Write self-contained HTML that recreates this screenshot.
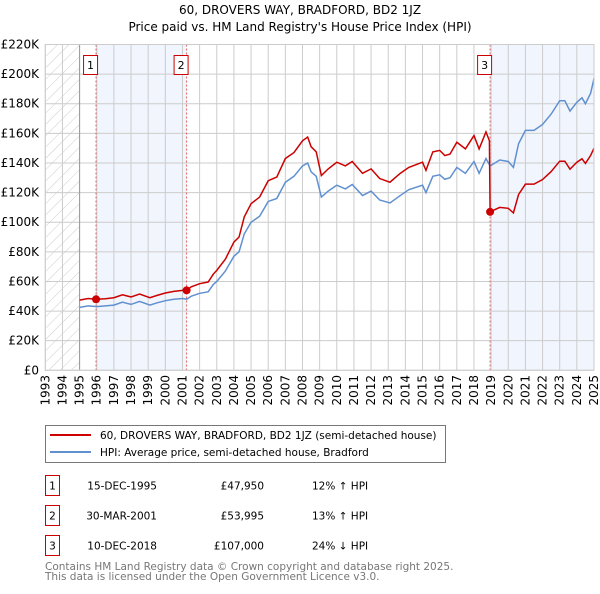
<!DOCTYPE html>
<html><head><meta charset="utf-8"><style>
body{margin:0;background:#fff;font-family:"DejaVu Sans","Liberation Sans",sans-serif}
svg text{font-family:"DejaVu Sans","Liberation Sans",sans-serif}
</style></head><body>
<svg id="chart" width="600" height="590" xmlns="http://www.w3.org/2000/svg">
<defs><pattern id="hatch" width="8" height="8" patternUnits="userSpaceOnUse" patternTransform="rotate(45)"><line x1="0" y1="0" x2="0" y2="8" stroke="#ccc" stroke-width="1"/></pattern></defs>
<text x="300" y="14" text-anchor="middle" font-size="12">60, DROVERS WAY, BRADFORD, BD2 1JZ</text>
<text x="300" y="31" text-anchor="middle" font-size="12">Price paid vs. HM Land Registry's House Price Index (HPI)</text>
<g id="bg"></g><g id="grid"></g><g id="marks"></g><g id="axes"></g>
<rect x="45.5" y="425.5" width="400" height="37" fill="#fff" stroke="#777"/>
<line x1="50" y1="435" x2="91" y2="435" stroke="#cc0000" stroke-width="2"/>
<text x="100" y="439" font-size="10.5">60, DROVERS WAY, BRADFORD, BD2 1JZ (semi-detached house)</text>
<line x1="50" y1="452" x2="91" y2="452" stroke="#6090d0" stroke-width="2"/>
<text x="100" y="456" font-size="10.5">HPI: Average price, semi-detached house, Bradford</text>
<g id="table" font-size="10.5"></g>
<text x="45" y="570" font-size="10.5" fill="#777">Contains HM Land Registry data © Crown copyright and database right 2025.</text>
<text x="45" y="580" font-size="10.5" fill="#777">This data is licensed under the Open Government Licence v3.0.</text>
</svg>
<script>
const hpiYears=[1995,1995.5,1996,1996.5,1997,1997.5,1998,1998.5,1999.1,1999.5,2000,2000.5,2001,2001.25,2001.5,2002,2002.5,2002.8,2003,2003.5,2004,2004.3,2004.6,2005,2005.5,2006,2006.5,2007,2007.5,2008,2008.3,2008.5,2008.8,2009.1,2009.5,2010,2010.5,2010.9,2011.5,2012,2012.5,2013.1,2013.7,2014.2,2015,2015.2,2015.6,2016,2016.3,2016.6,2017,2017.5,2018,2018.3,2018.7,2018.94,2019.5,2020,2020.3,2020.6,2021,2021.5,2022,2022.5,2023,2023.3,2023.6,2024,2024.3,2024.5,2024.8,2025];
const hpiValues=[42.5,43.5,43,43.5,44,46,44.5,46.5,44,45.5,47,48,48.5,48,50,52,53,58,60,67,77,80,92,100,104,114,116,127,131,138,140,134,131,117,121,125,122.5,125.5,118,121,115,113,118,122,125,120,131,132,129,130,137,133,141,133,143,138,142,141,137,153,162,162,166,173,182,182,175,181,184,180,187,197];
const priceYears=[1995,1995.5,1995.96,1996.5,1997,1997.5,1998,1998.5,1999.1,1999.5,2000,2000.5,2001,2001.24,2001.5,2002,2002.5,2002.8,2003,2003.5,2004,2004.3,2004.6,2005,2005.5,2006,2006.5,2007,2007.5,2008,2008.3,2008.5,2008.8,2009.1,2009.5,2010,2010.5,2010.9,2011.5,2012,2012.5,2013.1,2013.7,2014.2,2015,2015.2,2015.6,2016,2016.3,2016.6,2017,2017.5,2018,2018.3,2018.7,2018.9,2018.94,2019.5,2020,2020.3,2020.6,2021,2021.5,2022,2022.5,2023,2023.3,2023.6,2024,2024.3,2024.5,2024.8,2025];
const priceValues=[47.4,48.5,47.95,48.3,49,51,49.5,51.5,49,50.5,52.2,53.3,54,54,56.3,58.5,59.6,65,67.5,75,86.6,90,103.5,112.5,117,128,130.5,143,147,155,157.5,151,147.5,131.5,136,140.5,138,141,133,136,129.5,127,133,137,140.5,135,147.5,148.5,145,146,154,149.5,158.5,149.5,161,155,107,110,109.4,106.3,118.7,125.7,125.7,128.8,134.2,141.2,141.2,135.8,140.5,142.8,139.7,145,150];
const saleYears=[1995.96,2001.24,2018.94];
const saleValues=[47.95,53.995,107];
const saleLabels=["1","2","3"];
const saleDates=["15-DEC-1995","30-MAR-2001","10-DEC-2018"];
const salePrices=["£47,950","£53,995","£107,000"];
const saleDiffs=["12% ↑ HPI","13% ↑ HPI","24% ↓ HPI"];
const yTicks=[0,20,40,60,80,100,120,140,160,180,200,220];
const xTicks=[1993,1994,1995,1996,1997,1998,1999,2000,2001,2002,2003,2004,2005,2006,2007,2008,2009,2010,2011,2012,2013,2014,2015,2016,2017,2018,2019,2020,2021,2022,2023,2024,2025];
const X0=45.3,X1=594,Y0=370.3,Y1=44.5;
const xs=y=>X0+(y-1993)/32*(X1-X0);
const ys=v=>Y0-v/220*(Y0-Y1);
const NS="http://www.w3.org/2000/svg";
function mk(p,tag,at){const e=document.createElementNS(NS,tag);for(const k in at)e.setAttribute(k,at[k]);document.getElementById(p).appendChild(e);return e;}
let e;
e=mk('bg','rect',{x:X0,y:Y1,width:xs(1995)-X0,height:Y0-Y1,fill:'url(#hatch)'});


e=mk('bg','rect',{x:xs(saleYears[0]),y:Y1,width:xs(saleYears[1])-xs(saleYears[0]),height:Y0-Y1,fill:'#eef3fc',opacity:0.8});


e=mk('bg','rect',{x:xs(saleYears[2]),y:Y1,width:X1-xs(saleYears[2]),height:Y0-Y1,fill:'#eef3fc',opacity:0.8});


yTicks.forEach(t=>{
 e=mk('grid','line',{x1:X0,x2:X1,y1:ys(t),y2:ys(t),stroke:'#ccc'});
 
 
 e=mk('axes','text',{x:39,y:ys(t)+4,'text-anchor':'end','font-size':12});
 
 
 e.textContent=t===0?'£0':'£'+t+'K';
});
xTicks.forEach(t=>{
 e=mk('grid','line',{x1:xs(t),x2:xs(t),y1:Y1,y2:Y0,stroke:'#ccc'});
 
 
 e=mk('axes','text',{x:0,y:0,'text-anchor':'end','font-size':12,transform:`translate(${xs(t)+4},375) rotate(-90)`});
 
 
 e.textContent=t;
});
e=mk('grid','line',{x1:xs(1995),x2:xs(1995),y1:Y1,y2:Y0,stroke:'#999'});


saleYears.forEach((y,i)=>{
 e=mk('marks','line',{x1:xs(y),x2:xs(y),y1:Y1,y2:Y0,stroke:'#e06060','stroke-dasharray':'2,2'});
 
 
});
e=mk('marks','polyline',{points:hpiYears.map((y,i)=>xs(y)+','+ys(hpiValues[i])).join(' '),fill:'none',stroke:'#6090d0','stroke-width':1.5});


e=mk('marks','polyline',{points:priceYears.map((y,i)=>xs(y)+','+ys(priceValues[i])).join(' '),fill:'none',stroke:'#cc0000','stroke-width':1.5});


saleYears.forEach((y,i)=>{
 e=mk('marks','circle',{cx:xs(y),cy:ys(saleValues[i]),r:4,fill:'#cc0000'});
 
 
 e=mk('marks','rect',{x:xs(y)-12.5,y:55.5,width:14,height:19,fill:'#fff',stroke:'#cc0000'});
 
 
 e=mk('marks','text',{x:xs(y)-5.5,y:69,'text-anchor':'middle','font-size':11});
 
 
 e.textContent=saleLabels[i];
});
e=mk('axes','rect',{x:X0,y:Y1,width:X1-X0,height:Y0-Y1,fill:'none',stroke:'#ccc'});


saleLabels.forEach((l,i)=>{
 const ty=475.5+i*30;
 e=mk('table','rect',{x:45.5,y:ty,width:14,height:20,fill:'#fff',stroke:'#cc0000'});
 
 
 e=mk('table','text',{x:52.5,y:ty+14,'text-anchor':'middle'});
 
 
 e.textContent=l;
 e=mk('table','text',{x:157,y:ty+14,'text-anchor':'end'});
 
 
 e.textContent=saleDates[i];
 e=mk('table','text',{x:264,y:ty+14,'text-anchor':'end'});
 
 
 e.textContent=salePrices[i];
 e=mk('table','text',{x:312,y:ty+14});
 
 
 e.textContent=saleDiffs[i];
});
</script>
</body></html>
